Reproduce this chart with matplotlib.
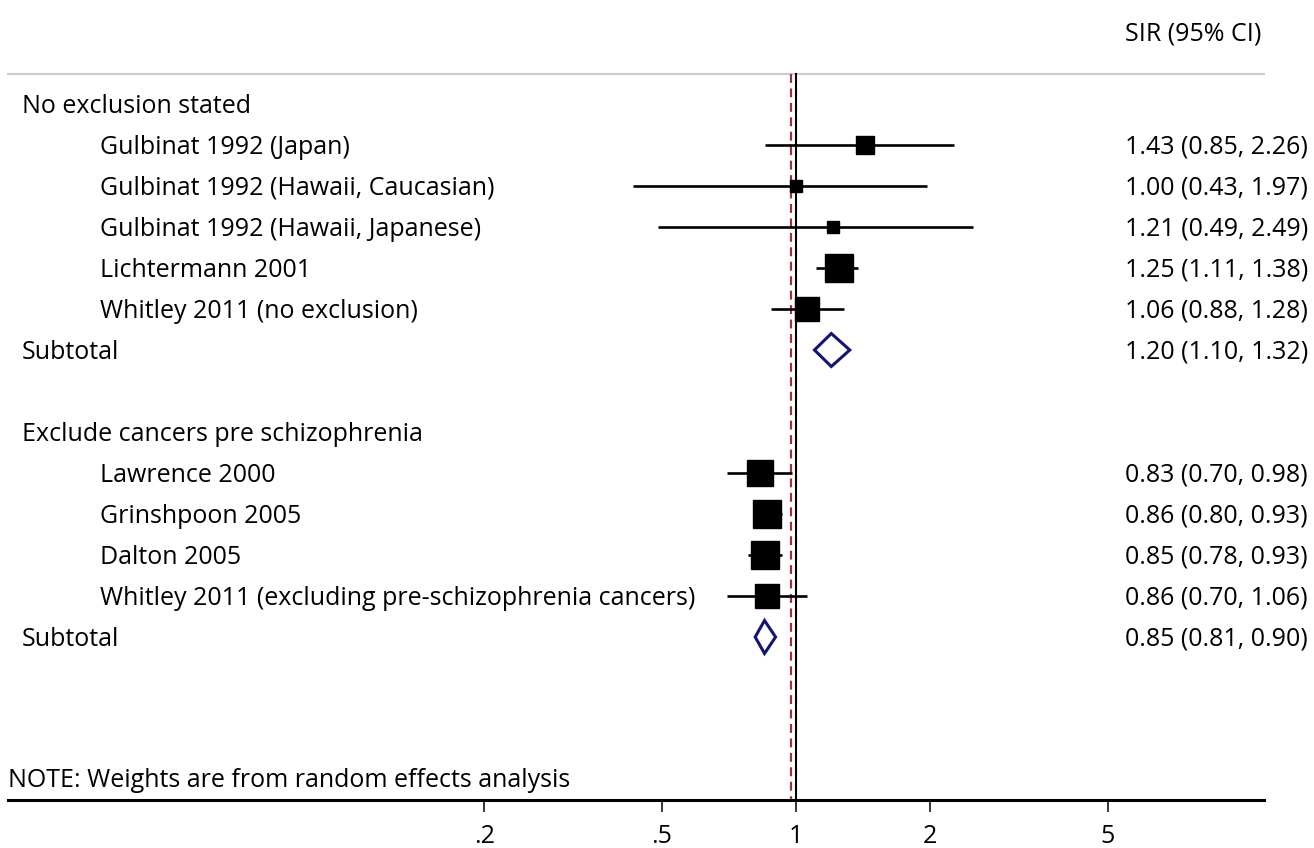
import numpy as np
import matplotlib
matplotlib.use('Agg')
import matplotlib.pyplot as plt
from matplotlib.patches import Polygon

plt.rcParams['font.family'] = ['Open Sans', 'DejaVu Sans']

# ---------------- data ----------------
groups = ['No exclusion stated', 'Exclude cancers pre schizophrenia']
studies1 = ['Gulbinat 1992 (Japan)', 'Gulbinat 1992 (Hawaii, Caucasian)',
            'Gulbinat 1992 (Hawaii, Japanese)', 'Lichtermann 2001',
            'Whitley 2011 (no exclusion)']
est1 = [1.43, 1.00, 1.21, 1.25, 1.06]
lo1 = [0.85, 0.43, 0.49, 1.11, 0.88]
hi1 = [2.26, 1.97, 2.49, 1.38, 1.28]
w1 = [5.9, 3.4, 3.4, 14.9, 12.7]   # approx weights (%)
sub1 = (1.20, 1.10, 1.32)

studies2 = ['Lawrence 2000', 'Grinshpoon 2005', 'Dalton 2005',
            'Whitley 2011 (excluding pre-schizophrenia cancers)']
est2 = [0.83, 0.86, 0.85, 0.86]
lo2 = [0.70, 0.80, 0.78, 0.70]
hi2 = [0.98, 0.93, 0.93, 1.06]
w2 = [13.8, 17.1, 16.0, 12.7]
sub2 = (0.85, 0.81, 0.90)

overall = 0.975   # dashed reference line
xticks = [0.2, 0.5, 1, 2, 5]
xticklabels = ['.2', '.5', '1', '2', '5']

# ---------------- figure ----------------
W, H = 1314, 848
fig = plt.figure(figsize=(W / 100, H / 100), dpi=100)
ax = fig.add_axes([8 / W, 48 / H, 1256 / W, 800 / H])
ax.set_xscale('log')
x0 = 10 ** (-788 / 446)
x1 = 10 ** (468 / 446)
ax.set_xlim(x0, x1)
rowpx = 41.0
ax.set_ylim((800 - 104) / rowpx, -104 / rowpx)

fs = 18
tr = ax.get_yaxis_transform()   # x axes fraction, y data

def fx(px):
    return (px - 8) / 1256

def box_side(w):
    # box side in points from weight
    return np.sqrt(w / 100 * 4907) * 0.72

def draw_group(row, name, studies, est, lo, hi, w, sub):
    ax.text(fx(22), row + 0.06, name, transform=tr, fontsize=fs, va='center', ha='left')
    r = row + 1
    for s, e, l, h, wt in zip(studies, est, lo, hi, w):
        ax.text(fx(100), r + 0.06, s, transform=tr, fontsize=fs, va='center', ha='left')
        ax.plot([l, h], [r, r], color='black', lw=1.9, solid_capstyle='butt', zorder=3)
        ax.plot(e, r, marker='s', ms=box_side(wt), color='black', mec='black', zorder=4)
        ax.text(fx(1125), r + 0.06, '%.2f (%.2f, %.2f)' % (e, l, h), transform=tr,
                fontsize=fs, va='center', ha='left')
        r += 1
    ax.text(fx(22), r + 0.06, 'Subtotal', transform=tr, fontsize=fs, va='center', ha='left')
    e, l, h = sub
    dh = 16.5 / rowpx
    ax.add_patch(Polygon([[l, r], [e, r - dh], [h, r], [e, r + dh]], closed=True,
                         fill=False, edgecolor='#141478', lw=2.2, zorder=4))
    ax.text(fx(1125), r + 0.06, '%.2f (%.2f, %.2f)' % (e, l, h), transform=tr,
            fontsize=fs, va='center', ha='left')
    return r

r = draw_group(0, groups[0], studies1, est1, lo1, hi1, w1, sub1)
draw_group(r + 2, groups[1], studies2, est2, lo2, hi2, w2, sub2)

top = (74 - 104) / rowpx
bot = (800 - 104) / rowpx
ax.text(fx(1125), (34 - 104) / rowpx, 'SIR (95% CI)', transform=tr, fontsize=fs,
        va='center', ha='left')
ax.plot([0, 1], [top, top], transform=tr, color='#cccccc', lw=1.5, clip_on=False)
ax.plot([1, 1], [top, bot], color='black', lw=1.5, zorder=2)
ax.plot([overall, overall], [top, bot], color='#a0303c', lw=1.6, ls=(0, (4, 2.5)), zorder=2)
ax.text(0, (781 - 104) / rowpx, 'NOTE: Weights are from random effects analysis',
        transform=tr, fontsize=fs, va='center', ha='left')

for sp in ['top', 'left', 'right']:
    ax.spines[sp].set_visible(False)
ax.spines['bottom'].set_linewidth(2.2)
ax.set_yticks([])
ax.set_xticks(xticks)
ax.set_xticklabels(xticklabels, fontsize=fs)
ax.minorticks_off()
ax.tick_params(axis='x', length=8.5, width=1.1, pad=9)

fig.savefig('out.png', dpi=100)
